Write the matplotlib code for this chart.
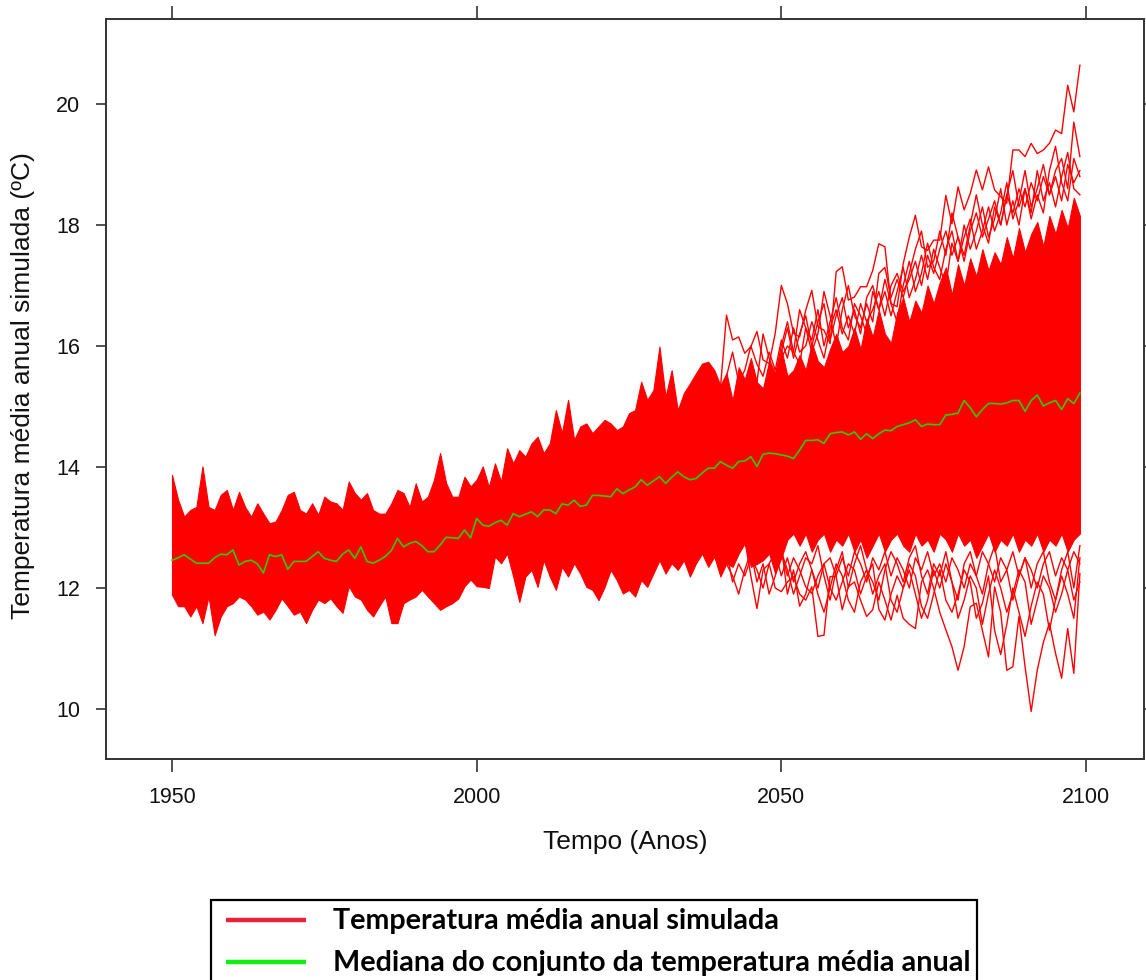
import numpy as np
import matplotlib
matplotlib.use("Agg")
import matplotlib.pyplot as plt
from matplotlib.patches import Rectangle
from matplotlib.lines import Line2D

# ---------------- data ----------------
years = np.arange(1950, 2100)

median = [
    12.46, 12.50, 12.55, 12.48, 12.41, 12.41, 12.41, 12.50, 12.56, 12.55,
    12.63, 12.38, 12.44, 12.46, 12.40, 12.25, 12.55, 12.52, 12.55, 12.31,
    12.44, 12.44, 12.44, 12.52, 12.60, 12.49, 12.46, 12.44, 12.56, 12.63,
    12.49, 12.68, 12.44, 12.41, 12.46, 12.52, 12.62, 12.82, 12.68, 12.74,
    12.77, 12.70, 12.60, 12.60, 12.71, 12.84, 12.83, 12.82, 12.96, 12.83,
    13.15, 13.04, 13.02, 13.08, 13.12, 13.04, 13.23, 13.18, 13.22, 13.26,
    13.18, 13.29, 13.29, 13.23, 13.39, 13.37, 13.45, 13.35, 13.37, 13.53,
    13.53, 13.52, 13.51, 13.64, 13.56, 13.62, 13.67, 13.79, 13.70, 13.77,
    13.84, 13.73, 13.83, 13.92, 13.84, 13.79, 13.81, 13.90, 13.98, 13.98,
    14.09, 14.03, 13.98, 14.09, 14.10, 14.17, 14.01, 14.21, 14.23, 14.22,
    14.20, 14.18, 14.14, 14.28, 14.44, 14.44, 14.45, 14.39, 14.55, 14.57,
    14.58, 14.53, 14.58, 14.46, 14.55, 14.47, 14.55, 14.61, 14.60, 14.67,
    14.70, 14.73, 14.78, 14.67, 14.71, 14.70, 14.70, 14.86, 14.87, 14.89,
    15.10, 14.98, 14.83, 14.95, 15.05, 15.05, 15.04, 15.06, 15.10, 15.10,
    14.92, 15.10, 15.19, 15.01, 15.06, 15.10, 14.95, 15.13, 15.05, 15.22,
]

# upper edge of the dense ensemble band
band_hi = [
    13.87, 13.46, 13.18, 13.29, 13.34, 14.01, 13.34, 13.29, 13.54, 13.62,
    13.29, 13.59, 13.34, 13.18, 13.40, 13.23, 13.07, 13.10, 13.29, 13.54,
    13.59, 13.29, 13.23, 13.40, 13.21, 13.51, 13.43, 13.40, 13.29, 13.76,
    13.57, 13.46, 13.57, 13.29, 13.23, 13.23, 13.40, 13.62, 13.57, 13.34,
    13.73, 13.43, 13.51, 13.79, 14.23, 13.73, 13.51, 13.51, 13.84, 13.68,
    13.79, 14.01, 13.67, 14.06, 13.76, 14.31, 14.06, 14.28, 14.17, 14.39,
    14.50, 14.23, 14.39, 14.94, 14.56, 15.11, 14.45, 14.67, 14.72, 14.56,
    14.67, 14.78, 14.72, 14.61, 14.67, 14.89, 14.94, 15.41, 15.11, 15.27,
    15.99, 15.16, 15.60, 14.94, 15.22, 15.38, 15.55, 15.71, 15.74, 15.60,
    15.35, 15.55, 15.10, 15.65, 15.45, 15.80, 15.40, 15.30, 15.75, 15.55,
    15.95, 15.50, 15.60, 15.85, 15.60, 16.05, 15.75, 15.65, 15.95, 16.20,
    15.90, 16.00, 16.30, 15.95, 16.45, 16.15, 16.60, 16.20, 16.05, 16.55,
    16.80, 16.40, 16.75, 16.55, 17.00, 16.70, 17.05, 17.30, 16.85, 17.35,
    17.00, 17.45, 17.15, 17.60, 17.25, 17.55, 17.35, 17.80, 17.45, 17.95,
    17.55, 17.85, 18.05, 17.65, 18.15, 17.85, 18.25, 17.95, 18.45, 18.15,
]

# lower edge of the dense ensemble band
band_lo = [
    11.89, 11.70, 11.70, 11.53, 11.70, 11.42, 11.86, 11.22, 11.53, 11.70,
    11.75, 11.86, 11.81, 11.70, 11.56, 11.61, 11.48, 11.64, 11.83, 11.70,
    11.56, 11.61, 11.42, 11.64, 11.81, 11.75, 11.83, 11.70, 11.59, 12.03,
    11.86, 11.81, 11.64, 11.53, 11.70, 11.86, 11.42, 11.42, 11.75, 11.81,
    11.86, 11.97, 11.86, 11.75, 11.64, 11.70, 11.75, 11.83, 12.03, 12.14,
    12.03, 12.02, 12.00, 12.52, 12.41, 12.57, 12.19, 11.77, 12.19, 12.30,
    12.02, 12.46, 12.19, 11.97, 12.35, 12.19, 12.41, 12.24, 12.02, 11.97,
    11.80, 12.02, 12.30, 12.13, 11.91, 11.97, 11.86, 12.13, 12.02, 12.24,
    12.46, 12.24, 12.41, 12.30, 12.46, 12.19, 12.41, 12.57, 12.35, 12.52,
    12.19, 12.41, 12.35, 12.57, 12.74, 12.35, 12.40, 12.46, 12.57, 12.24,
    12.50, 12.80, 12.90, 12.70, 12.90, 12.60, 12.80, 12.90, 12.60, 12.80,
    12.70, 12.90, 12.60, 12.80, 12.50, 12.70, 12.90, 12.60, 12.80, 12.90,
    12.70, 12.60, 12.90, 12.70, 12.80, 12.60, 12.90, 12.80, 12.60, 12.90,
    12.70, 12.80, 12.50, 12.70, 12.90, 12.60, 12.80, 12.70, 12.90, 12.60,
    12.80, 12.70, 12.90, 12.60, 12.80, 12.70, 12.90, 12.60, 12.80, 12.90,
]

# individual ensemble members that leave the dense band (start year, values)
upper1_start = 2040
upper1 = [
    15.30, 16.51, 16.10, 16.15, 15.88, 15.99, 16.24, 15.77, 15.71, 16.21,
    17.00, 16.70, 16.21, 16.15, 16.59, 16.92, 16.32, 16.26, 16.04, 17.23,
    17.31, 16.76, 16.81, 16.98, 16.98, 17.25, 17.69, 17.64, 16.70, 16.65,
    17.36, 17.80, 18.16, 17.64, 17.58, 17.75, 17.75, 18.49, 18.02, 18.63,
    18.25, 18.52, 18.91, 18.58, 18.96, 18.58, 18.47, 18.36, 19.24, 19.24,
    19.13, 19.35, 19.18, 19.24, 19.35, 19.57, 19.51, 20.31, 19.87, 20.64,
]
upper2_start = 2040
upper2 = [
    15.20, 15.50, 15.90, 15.40, 15.60, 16.00, 15.70, 15.50, 15.90, 15.60,
    16.10, 15.80, 16.30, 15.90, 16.00, 16.40, 16.10, 15.80, 16.30, 16.60,
    16.20, 16.50, 16.20, 16.70, 16.40, 16.60, 16.90, 16.50, 17.00, 17.20,
    16.90, 17.10, 17.40, 17.00, 17.50, 17.20, 17.60, 17.90, 17.50, 17.80,
    17.40, 17.90, 18.20, 17.80, 18.10, 18.40, 18.00, 18.50, 18.20, 18.60,
    18.30, 18.70, 18.40, 18.80, 18.50, 18.90, 19.10, 18.60, 19.70, 19.13,
]
upper3_start = 2050
upper3 = [
    15.90, 16.30, 15.80, 16.20, 16.50, 16.00, 16.40, 16.70, 16.10, 16.50,
    16.80, 16.30, 16.60, 16.20, 16.80, 17.00, 16.60, 16.90, 16.50, 16.90,
    17.30, 16.80, 17.10, 17.50, 17.10, 17.60, 17.30, 17.00, 17.70, 17.40,
    18.00, 17.60, 17.90, 18.30, 17.80, 18.10, 18.60, 18.00, 18.40, 18.00,
    18.60, 18.20, 18.90, 18.40, 18.70, 18.30, 18.80, 19.20, 18.60, 18.50,
]
upper4_start = 2045
upper4 = [
    15.70, 15.40, 16.20, 15.80, 15.50,
    16.00, 16.40, 15.90, 15.70, 16.30, 16.10, 16.60, 16.00, 16.40, 16.80,
    16.30, 16.10, 16.70, 16.50, 16.20, 16.90, 16.60, 17.10, 16.70, 16.40,
    17.00, 17.40, 16.90, 17.20, 17.70, 17.30, 17.10, 17.60, 17.90, 17.40,
    17.80, 18.10, 17.60, 17.90, 18.30, 17.90, 18.20, 18.70, 18.10, 18.40,
    18.90, 18.30, 18.60, 19.00, 18.50, 18.80, 18.40, 19.00, 18.70, 18.90,
]
upper5_start = 2050
upper5 = [
    15.80, 16.00, 15.90, 16.60, 16.30, 15.90, 16.20, 16.90, 16.50, 16.00,
    16.60, 17.00, 16.50, 16.30, 16.70, 16.40, 17.20, 17.30, 16.80, 17.10,
    16.80, 17.20, 17.60, 17.90, 17.30, 17.40, 17.90, 17.50, 18.20, 17.80,
    17.50, 18.00, 18.50, 18.00, 17.70, 18.30, 18.00, 18.50, 18.90, 18.30,
    18.60, 18.10, 18.50, 18.20, 18.90, 19.30, 18.70, 18.40, 19.10, 18.80,
]
lower1_start = 2044
lower1 = [
    12.80, 12.20, 11.66, 12.30, 12.40, 12.00,
    11.94, 12.10, 12.19, 11.90, 11.80, 12.02, 11.20, 11.22, 12.19, 12.19,
    11.64, 12.02, 12.10, 11.80, 11.53, 11.64, 12.10, 11.80, 11.47, 11.88,
    11.50, 11.40, 11.33, 12.10, 12.30, 12.00, 11.60, 11.31, 11.03, 10.64,
    11.03, 11.69, 11.75, 11.30, 10.86, 12.02, 11.60, 10.64, 10.70, 11.53,
    10.70, 9.96, 10.64, 11.10, 11.42, 10.92, 10.51, 11.33, 10.59, 12.24,
]
lower2_start = 2050
lower2 = [
    12.60, 12.20, 12.50, 12.30, 12.02, 11.91, 12.20, 12.40, 12.00, 11.80,
    12.10, 12.40, 12.30, 11.90, 12.20, 12.40, 11.65, 11.47, 11.90, 12.20,
    12.00, 12.40, 12.20, 11.70, 11.50, 11.90, 12.30, 11.80, 11.60, 11.90,
    12.30, 12.10, 11.50, 11.75, 12.20, 11.30, 10.90, 11.40, 12.00, 11.60,
    11.20, 11.70, 12.10, 11.90, 11.30, 11.80, 12.20, 11.90, 11.50, 12.50,
]
lower3_start = 2040
lower3 = [
    12.40, 12.60, 12.10, 12.40, 12.20, 12.50, 12.30, 12.00, 12.40, 12.60,
    12.20, 12.50, 12.10, 12.40, 12.60, 12.30, 12.00, 12.40, 12.50, 12.20,
    12.50, 12.20, 12.60, 12.40, 12.10, 12.50, 12.30, 12.60, 12.20, 12.50,
    12.30, 12.00, 12.50, 12.30, 12.60, 12.20, 12.40, 12.10, 12.50, 12.30,
    12.00, 12.40, 12.20, 12.60, 12.40, 12.10, 12.50, 12.30, 12.60, 12.20,
    12.50, 12.30, 12.00, 12.40, 12.60, 12.20, 12.50, 12.30, 12.60, 12.40,
]
lower4_start = 2040
lower4 = [
    12.50, 12.40, 12.20, 11.90, 12.30, 12.60, 12.10, 12.40, 11.90, 12.20,
    12.60, 12.30, 11.90, 12.20, 12.50, 12.40, 12.70, 12.20, 11.80, 12.30,
    12.60, 12.00, 12.40, 12.70, 12.30, 12.10, 11.80, 12.30, 12.60, 12.40,
    12.10, 12.50, 12.70, 12.20, 11.90, 12.40, 12.20, 12.60, 12.10, 11.80,
    12.40, 12.60, 12.20, 11.90, 12.40, 12.70, 12.10, 12.30, 11.80, 12.20,
    12.50, 12.00, 12.40, 12.60, 12.10, 11.80, 12.30, 12.60, 12.00, 12.70,
]
lower5_start = 2050
lower5 = [
    12.70, 11.90, 12.30, 11.70, 11.90, 12.30, 11.90, 11.60, 12.00, 12.40,
    12.20, 11.80, 11.60, 12.10, 12.30, 11.90, 12.20, 12.40, 11.80, 11.60,
    12.00, 12.30, 11.90, 11.50, 11.80, 12.30, 12.00, 12.40, 12.10, 11.50,
    11.80, 12.20, 12.00, 11.40, 11.90, 12.30, 12.00, 11.60, 11.90, 12.30,
    12.10, 11.40, 11.80, 12.20, 12.00, 11.60, 11.90, 12.30, 11.80, 12.10,
]

xticks = [1950, 2000, 2050, 2100]
yticks = [10, 12, 14, 16, 18, 20]

xlabel = "Tempo (Anos)"
ylabel = "Temperatura média anual simulada (ºC)"
legend_labels = ["Temperatura média anual simulada",
                 "Mediana do conjunto da temperatura média anual"]

# ---------------- figure ----------------
W, H = 1146, 980
fig = plt.figure(figsize=(W / 100, H / 100), dpi=100)
fig.patch.set_facecolor("white")

ax = fig.add_axes([106 / W, 1 - 759 / H, (1144 - 106) / W, (759 - 19) / H])

RED = "#ff0000"
ax.fill_between(years, band_lo, band_hi, facecolor=RED, edgecolor=RED,
                linewidth=0.8, zorder=2)

members = [(upper1_start, upper1), (upper2_start, upper2), (upper3_start, upper3),
           (upper4_start, upper4), (upper5_start, upper5),
           (lower1_start, lower1), (lower2_start, lower2), (lower3_start, lower3),
           (lower4_start, lower4), (lower5_start, lower5)]
for start, vals in members:
    yrs = np.arange(start, start + len(vals))
    ax.plot(yrs, vals, color=RED, lw=1.0, zorder=3)

ax.plot(years, median, color="#2ccc00", lw=1.2, zorder=4)

ax.set_xlim(1939.17, 2109.52)
ax.set_ylim(9.174, 21.405)
ax.set_xticks(xticks)
ax.set_yticks(yticks)

TICKCOL = "#333333"
for s in ax.spines.values():
    s.set_linewidth(1.4)
    s.set_color(TICKCOL)
ax.tick_params(axis="both", direction="out", width=1.2, color=TICKCOL,
               labelsize=15.5, labelcolor="#111111", pad=11,
               top=True, right=True, labeltop=False, labelright=False)
ax.tick_params(axis="x", length=9.5)
ax.tick_params(axis="y", length=7.5)
for lab in ax.get_xticklabels() + ax.get_yticklabels():
    lab.set_family("Liberation Sans")

fig.text(625 / W, 1 - 842 / H, xlabel, ha="center", va="center",
         fontsize=19, family="Liberation Sans", color="#111111")
fig.text(23 / W, 1 - 386 / H, ylabel, ha="center", va="center", rotation=90,
         fontsize=19, family="Liberation Sans", color="#111111")

# ---------------- legend (outside, bottom) ----------------
rect = Rectangle((211 / W, -0.1), (977 - 211) / W, 0.1 + (1 - 900 / H),
                 transform=fig.transFigure, fill=False, edgecolor="black",
                 linewidth=1.6)
fig.add_artist(rect)
leg_colors = ["#e8203c", "#11ee11"]
leg_y = [920, 962]
texts = []
for lab, col, yy in zip(legend_labels, leg_colors, leg_y):
    fig.add_artist(Line2D([226 / W, 306 / W], [1 - yy / H, 1 - yy / H],
                          transform=fig.transFigure, color=col, lw=3.2,
                          solid_capstyle="butt"))
    t = fig.text(333 / W, 1 - (yy + 1) / H, lab, ha="left", va="center",
                 fontsize=18, fontweight="bold", family="Lato", color="black")
    texts.append(t)

fig.canvas.draw()
bb = texts[1].get_window_extent()
scale = 637.0 / bb.width
for t in texts:
    t.set_fontsize(18 * scale)

fig.savefig("out.png", dpi=100)
